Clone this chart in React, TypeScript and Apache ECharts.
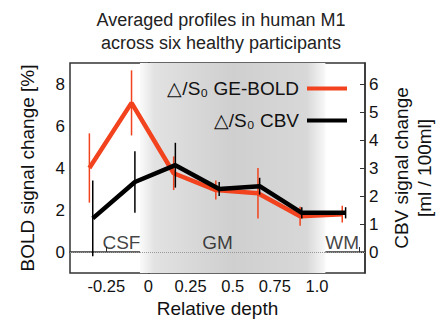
import React, { useEffect, useRef } from "react";
import * as echarts from "echarts";

const titleLines = ["Averaged profiles in human M1", "across six healthy participants"];
const boldName = "△/S₀ GE-BOLD";
const cbvName = "△/S₀ CBV";

const depthBold = [-0.35, -0.1, 0.15, 0.4, 0.65, 0.9, 1.15];
const bold = [4.0, 7.1, 3.75, 2.95, 2.8, 1.7, 1.8];
const boldErr = [1.65, 1.55, 0.8, 0.45, 1.2, 0.45, 0.4];

const depthCbv = [-0.33, -0.08, 0.16, 0.42, 0.66, 0.91, 1.17];
const cbv = [1.2, 2.5, 3.1, 2.25, 2.35, 1.4, 1.4];
const cbvErr = [1.35, 1.1, 0.8, 0.25, 0.3, 0.2, 0.2];

const xTicks = [-0.25, 0, 0.25, 0.5, 0.75, 1.0, 1.25];
const xLabels = [-0.25, 0, 0.25, 0.5, 0.75, 1.0];
const leftTicks = [0, 2, 4, 6, 8];
const rightTicks = [0, 1, 2, 3, 4, 5, 6];

const regionNames = ["CSF", "GM", "WM"];
const regionX = [-0.16, 0.41, 1.15];
const regionY = [0.45, 0.45, 0.45];

const gmStart = -0.05;
const gmEnd = 1.05;

const RED = "#f2431e";
const FONT = "'Liberation Sans', Arial, Helvetica, sans-serif";

export default function App() {
  const ref = useRef<HTMLDivElement>(null);
  useEffect(() => {
    if (!ref.current) return;
    const chart = echarts.init(ref.current, undefined, { renderer: "svg" });
    const errRender = (color: string) => (params: any, api: any) => {
      const x = api.value(0);
      const lo = api.coord([x, api.value(1)]);
      const hi = api.coord([x, api.value(2)]);
      return {
        type: "line",
        shape: { x1: lo[0], y1: lo[1], x2: hi[0], y2: hi[1] },
        style: { stroke: color, lineWidth: 1.5 },
      };
    };
    const option: any = {
      animation: false,
      textStyle: { fontFamily: FONT },
      title: {
        text: titleLines.join("\n"),
        left: "center",
        top: 3,
        textStyle: { fontSize: 18, fontWeight: "normal", color: "#222", lineHeight: 23, fontFamily: FONT },
      },
      legend: [
        {
          data: [boldName],
          right: 90,
          top: 74,
          orient: "vertical",
          align: "right",
          icon: "rect",
          itemWidth: 40,
          itemHeight: 4,
          itemGap: 0,
          textStyle: { fontSize: 19, color: "#111", fontFamily: FONT, padding: [0, 3, 0, 0] },
        },
        {
          data: [cbvName],
          right: 90,
          top: 106,
          orient: "vertical",
          align: "right",
          icon: "rect",
          itemWidth: 40,
          itemHeight: 4,
          itemGap: 0,
          textStyle: { fontSize: 19, color: "#111", fontFamily: FONT, padding: [0, 3, 0, 0] },
        },
      ],
      grid: {
        left: 70,
        right: 77,
        top: 63,
        bottom: 48,
        containLabel: false,
        outerBoundsMode: "none",
        show: true,
        borderColor: "#333",
        borderWidth: 1.5,
        backgroundColor: "transparent",
      },
      xAxis: {
        type: "value",
        min: -0.465,
        max: 1.285,
        name: "Relative depth",
        nameLocation: "middle",
        nameGap: 19,
        nameTextStyle: { fontSize: 19, color: "#111", fontFamily: FONT },
        axisLine: { show: true, lineStyle: { color: "#333", width: 1.5 } },
        axisTick: { show: true, inside: true, length: 5, customValues: xTicks, lineStyle: { color: "#333" } },
        axisLabel: {
          customValues: xLabels,
          fontSize: 16.5,
          color: "#111",
          margin: 4,
          formatter: (v: number) => (v === 1 ? "1.0" : String(v)),
        },
        splitLine: { show: false },
      },
      yAxis: [
        {
          type: "value",
          min: -1,
          max: 9,
          name: "BOLD signal change [%]",
          nameLocation: "middle",
          nameRotate: 90,
          nameGap: 33,
          nameTextStyle: { fontSize: 19, color: "#111", fontFamily: FONT },
          axisLine: { show: true, lineStyle: { color: "#333", width: 1.5 } },
          axisTick: { show: true, inside: true, length: 5, customValues: leftTicks, lineStyle: { color: "#333" } },
          axisLabel: { customValues: leftTicks, fontSize: 17, color: "#111", margin: 5 },
          splitLine: { show: false },
        },
        {
          type: "value",
          min: -0.75,
          max: 6.75,
          position: "right",
          name: "CBV signal change\n[ml / 100ml]",
          nameLocation: "middle",
          nameRotate: 90,
          nameGap: 25,
          nameTextStyle: { fontSize: 19, color: "#111", lineHeight: 23, fontFamily: FONT },
          axisLine: { show: true, lineStyle: { color: "#333", width: 1.5 } },
          axisTick: { show: true, inside: true, length: 5, customValues: rightTicks, lineStyle: { color: "#333" } },
          axisLabel: { customValues: rightTicks, fontSize: 17, color: "#111", margin: 4 },
          splitLine: { show: false },
        },
      ],
      series: [
        {
          name: "regions",
          type: "scatter",
          yAxisIndex: 0,
          symbolSize: 1,
          itemStyle: { color: "rgba(0,0,0,0)" },
          data: regionNames.map((n, i) => ({ name: n, value: [regionX[i], regionY[i]] })),
          label: { show: true, position: "inside", formatter: "{b}", fontSize: 19, color: "#111", fontFamily: FONT },
          markArea: {
            silent: true,
            itemStyle: {
              color: new echarts.graphic.LinearGradient(0, 0, 1, 0, [
                { offset: 0, color: "#fafafa" },
                { offset: 0.08, color: "#e2e2e2" },
                { offset: 0.5, color: "#cfcfcf" },
                { offset: 0.9, color: "#d8d8d8" },
                { offset: 1, color: "#f8f8f8" },
              ]),
            },
            data: [[{ xAxis: gmStart }, { xAxis: gmEnd }]],
          },
          markLine: {
            silent: true,
            symbol: ["none", "none"],
            label: { show: false },
            lineStyle: { color: "#999", type: "dotted", width: 1 },
            data: [{ yAxis: 0 }],
          },
          z: 1,
        },
        {
          name: boldName,
          type: "line",
          yAxisIndex: 0,
          data: depthBold.map((x, i) => [x, bold[i]]),
          symbol: "none",
          lineStyle: { color: RED, width: 4.5 },
          itemStyle: { color: RED },
          z: 3,
        },
        {
          name: "boldErr",
          type: "custom",
          yAxisIndex: 0,
          renderItem: errRender(RED),
          data: depthBold.map((x, i) => [x, bold[i] - boldErr[i], bold[i] + boldErr[i]]),
          encode: { x: 0, y: [1, 2] },
          z: 4,
        },
        {
          name: cbvName,
          type: "line",
          yAxisIndex: 1,
          data: depthCbv.map((x, i) => [x, cbv[i]]),
          symbol: "none",
          lineStyle: { color: "#000", width: 4.5 },
          itemStyle: { color: "#000" },
          z: 5,
        },
        {
          name: "cbvErr",
          type: "custom",
          yAxisIndex: 1,
          renderItem: errRender("#000"),
          data: depthCbv.map((x, i) => [x, cbv[i] - cbvErr[i], cbv[i] + cbvErr[i]]),
          encode: { x: 0, y: [1, 2] },
          z: 6,
        },
      ],
    };
    chart.setOption(option);
    return () => chart.dispose();
  }, []);
  return <div ref={ref} style={{ width: 442, height: 321, position: "absolute", left: 0, top: 0 }} />;
}
